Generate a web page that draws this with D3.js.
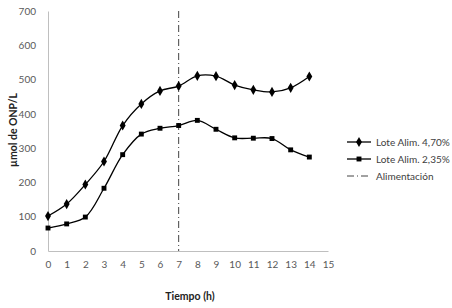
<!DOCTYPE html>
<html>
<head>
<meta charset="utf-8">
<script src="https://cdn.jsdelivr.net/npm/d3@7"></script>
<style>
	body { margin: 0; background: #fff; }
	text { font-family: Lato, 'Open Sans', sans-serif; }
</style>
</head>
<body>
<div id="chart"></div>
<script>
// data
const hours = [0, 1, 2, 3, 4, 5, 6, 7, 8, 9, 10, 11, 12, 13, 14];
const lote470 = [102, 137, 194, 261, 366, 429, 467, 481, 511, 510, 484, 470, 464, 476, 509];
const lote235 = [67, 79, 99, 183, 281, 341, 358, 366, 381, 355, 330, 329, 328, 295, 274];
const feedHour = 7;
const xTicks = d3.range(0, 16);
const yTicks = [0, 100, 200, 300, 400, 500, 600, 700];

const width = 452, height = 308;
const margin = { top: 11, right: 124, bottom: 57, left: 48 };
const innerW = 280, innerH = 240;

const svg = d3
	.select('#chart')
	.append('svg')
	.attr('width', width)
	.attr('height', height);

const g = svg.append('g').attr('transform', `translate(${margin.left},${margin.top})`);

const x = d3.scaleLinear().domain([0, 15]).range([0, innerW]);
const y = d3.scaleLinear().domain([0, 700]).range([innerH, 0]);

// axes
const xAxis = g
	.append('g')
	.attr('transform', `translate(0,${innerH})`)
	.call(d3.axisBottom(x).tickValues(xTicks).tickSize(0).tickPadding(10));
const yAxis = g.append('g').call(d3.axisLeft(y).tickValues(yTicks).tickSize(0).tickPadding(12));
[xAxis, yAxis].forEach((a) => {
	a.select('.domain').attr('stroke', '#bfbfbf');
	a.selectAll('text').attr('fill', '#595959').style('font-size', '10px');
});

// feeding line
g.append('line')
	.attr('x1', x(feedHour))
	.attr('x2', x(feedHour))
	.attr('y1', y(700))
	.attr('y2', y(0))
	.attr('stroke', '#444')
	.attr('stroke-width', 1)
	.attr('stroke-dasharray', '7,3,1,3');

const line = d3
	.line()
	.curve(d3.curveCatmullRom.alpha(0.5))
	.x((d) => x(d[0]))
	.y((d) => y(d[1]));

const series = [
	{ name: 'Lote Alim. 4,70%', values: lote470, symbol: d3.symbolDiamond, size: 30 },
	{ name: 'Lote Alim. 2,35%', values: lote235, symbol: d3.symbolSquare, size: 24 },
];

series.forEach((s) => {
	const pts = hours.map((h, i) => [h, s.values[i]]);
	g.append('path')
		.attr('d', line(pts))
		.attr('fill', 'none')
		.attr('stroke', '#000')
		.attr('stroke-width', 1.3);
	g.selectAll(null)
		.data(pts)
		.enter()
		.append('path')
		.attr('d', d3.symbol().type(s.symbol).size(s.size))
		.attr('transform', (d) => `translate(${x(d[0])},${y(d[1])})`)
		.attr('fill', '#000');
});

// legend
const legend = svg.append('g').attr('transform', 'translate(347,142)');
const items = [...series, { name: 'Alimentación', dash: true }];
items.forEach((d, i) => {
	const row = legend.append('g').attr('transform', `translate(0,${i * 17})`);
	row.append('line')
		.attr('x1', 0)
		.attr('x2', 24)
		.attr('stroke', d.dash ? '#444' : '#000')
		.attr('stroke-width', d.dash ? 1 : 1.3)
		.attr('stroke-dasharray', d.dash ? '7,3,1,3' : null);
	if (!d.dash) {
		row.append('path')
			.attr('d', d3.symbol().type(d.symbol).size(d.size))
			.attr('transform', 'translate(12,0)');
	}
	row.append('text')
		.attr('x', 29)
		.attr('y', 3.5)
		.attr('fill', '#404040')
		.style('font-size', '10px')
		.text(d.name);
});

// axis titles
svg.append('text')
	.attr('x', 190)
	.attr('y', 300)
	.attr('text-anchor', 'middle')
	.style('font-size', '10.5px')
	.style('font-weight', 'bold')
	.attr('fill', '#222')
	.text('Tiempo (h)');
svg.append('text')
	.attr('transform', 'translate(17,130) rotate(-90)')
	.attr('text-anchor', 'middle')
	.style('font-size', '10.5px')
	.style('font-weight', 'bold')
	.attr('fill', '#222')
	.text('µmol de ONP/L');
</script>
</body>
</html>
